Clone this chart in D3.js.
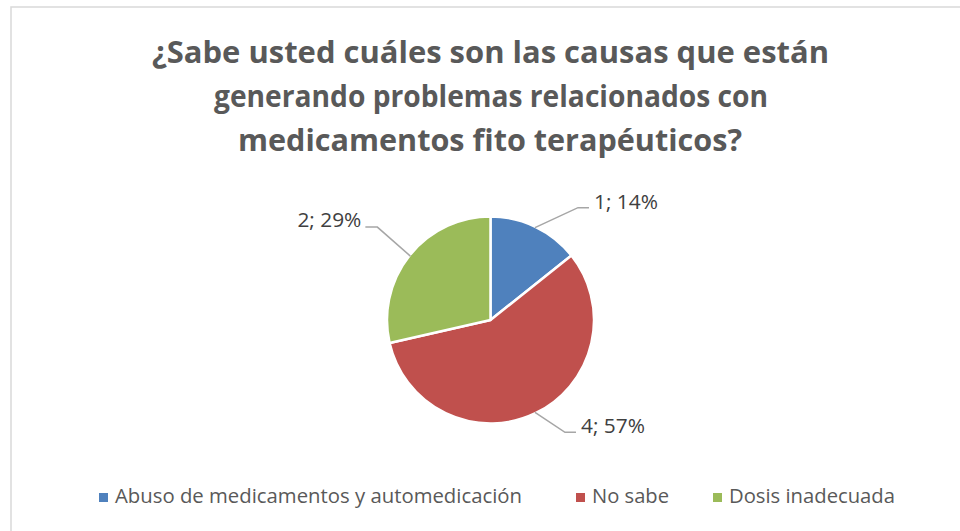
<!DOCTYPE html>
<html>
<head>
<meta charset="utf-8">
<script src="https://cdnjs.cloudflare.com/ajax/libs/d3/7.8.5/d3.min.js"></script>
<style>
  body { margin: 0; background: #fff; }
  svg { display: block; font-family: "Open Sans", "DejaVu Sans", sans-serif; }
</style>
</head>
<body>
<script>
// data
var categories = ["Abuso de medicamentos y automedicación", "No sabe", "Dosis inadecuada"];
var values = [1, 4, 2];
var percents = ["14%", "57%", "29%"];
var titleLines = ["¿Sabe usted cuáles son las causas que están",
                  "generando problemas relacionados con",
                  "medicamentos fito terapéuticos?"];

var width = 960, height = 531;
var colors = ["#4F81BD", "#C0504D", "#9BBB59"];
var cx = 490.5, cy = 320, radius = 103.5;

var svg = d3.select("body").append("svg")
    .attr("width", width)
    .attr("height", height);

svg.append("rect")
    .attr("width", width).attr("height", height)
    .attr("fill", "#fff");

// chart border (only left/top visible in the crop)
svg.append("rect")
    .attr("x", 11).attr("y", 7)
    .attr("width", 1000).attr("height", 600)
    .attr("fill", "none")
    .attr("stroke", "#D9D9D9")
    .attr("stroke-width", 1.5);

// title
var titleTargets = [{x: 152, w: 677, y: 63}, {x: 214, w: 554, y: 107}, {x: 238, w: 504, y: 151}];
svg.append("g").selectAll("text")
    .data(titleLines)
    .enter().append("text")
    .attr("x", function(d, i) { return titleTargets[i].x; })
    .attr("y", function(d, i) { return titleTargets[i].y; })
    .attr("textLength", function(d, i) { return titleTargets[i].w; })
    .attr("lengthAdjust", "spacingAndGlyphs")
    .attr("font-size", 31)
    .attr("font-weight", "bold")
    .attr("fill", "#595959")
    .text(function(d) { return d; });

// pie
var pie = d3.pie().sort(null).value(function(d) { return d; });
var arcs = pie(values);
var arc = d3.arc().innerRadius(0).outerRadius(radius);

var g = svg.append("g").attr("transform", "translate(" + cx + "," + cy + ")");

g.selectAll("path")
    .data(arcs)
    .enter().append("path")
    .attr("d", arc)
    .attr("fill", function(d, i) { return colors[i]; })
    .attr("stroke", "#fff")
    .attr("stroke-width", 2.5)
    .attr("stroke-linejoin", "round");

// labels with leader lines
var elbow = [[43, -20], [30, 20], [-33, -29]]; // elbow offset from slice edge

arcs.forEach(function(d, i) {
  var mid = (d.startAngle + d.endAngle) / 2;
  var p0 = [Math.sin(mid) * (radius - 1), -Math.cos(mid) * (radius - 1)];
  var p1 = [p0[0] + elbow[i][0], p0[1] + elbow[i][1]];
  var right = Math.sin(mid) > 0;
  var p2 = [p1[0] + (right ? 11 : -12), p1[1]];

  g.append("polyline")
      .attr("points", [p0, p1, p2].map(function(p) { return p.join(","); }).join(" "))
      .attr("fill", "none")
      .attr("stroke", "#A6A6A6")
      .attr("stroke-width", 1.5);

  g.append("text")
      .attr("x", p2[0] + (right ? 5 : -4))
      .attr("y", p2[1] + (right ? 1 : 0))
      .attr("text-anchor", right ? "start" : "end")
      .attr("textLength", 64)
      .attr("lengthAdjust", "spacingAndGlyphs")
      .attr("font-size", 20)
      .attr("fill", "#404040")
      .text(values[i] + "; " + percents[i]);
});

// legend
var legendPos = [{x: 99, w: 407}, {x: 576, w: 77}, {x: 713, w: 166}];
var legend = svg.append("g").selectAll("g")
    .data(categories)
    .enter().append("g")
    .attr("transform", function(d, i) { return "translate(" + legendPos[i].x + ",493)"; });

legend.append("rect")
    .attr("width", 9).attr("height", 9)
    .attr("fill", function(d, i) { return colors[i]; });

legend.append("text")
    .attr("x", 16)
    .attr("y", 10)
    .attr("textLength", function(d, i) { return legendPos[i].w; })
    .attr("lengthAdjust", "spacingAndGlyphs")
    .attr("font-size", 20)
    .attr("fill", "#595959")
    .text(function(d) { return d; });
</script>
</body>
</html>
